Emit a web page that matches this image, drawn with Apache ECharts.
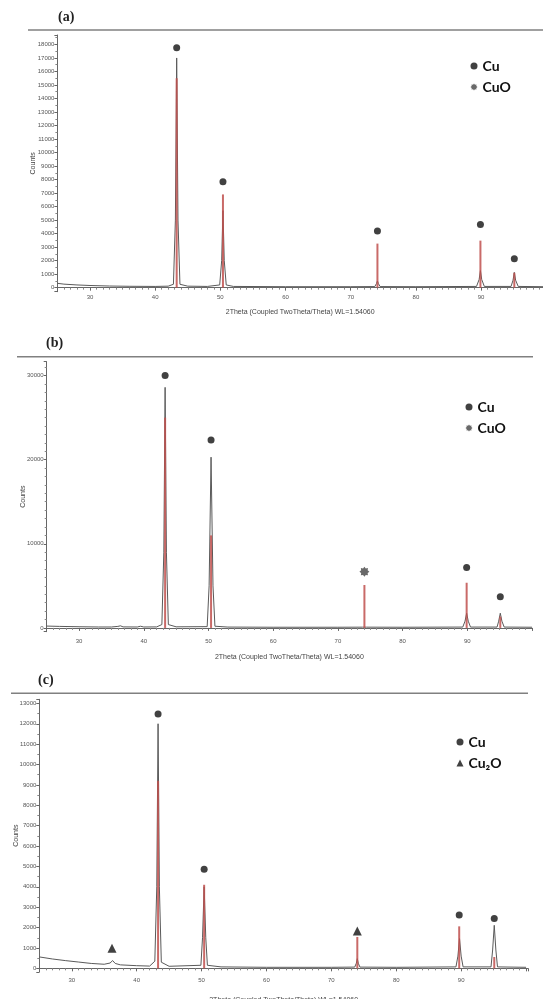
<!DOCTYPE html>
<html>
<head>
<meta charset="utf-8">
<script src="https://cdn.jsdelivr.net/npm/echarts@6/dist/echarts.min.js"></script>
<style>
  html, body { margin: 0; padding: 0; background: #fff; }
  #chart { width: 543px; height: 999px; }
</style>
</head>
<body>
<div id="chart"></div>
<script>
// measured scans [2theta, counts]
const scanA = [[25,320],[26,260],[28,200],[30,160],[33,120],[36,100],[40,90],[42,110],[42.8,250],[43.1,5000],[43.3,17000],[43.5,5000],[43.8,250],[45,110],[48,90],[49.9,200],[50.2,2000],[50.4,5700],[50.6,2000],[50.9,200],[52,90],[60,70],[70,70],[73.7,80],[73.95,300],[74.1,500],[74.25,300],[74.5,80],[80,70],[89.3,90],[89.7,600],[89.9,1260],[90.1,600],[90.5,90],[94.6,90],[94.9,550],[95.1,1130],[95.3,550],[95.7,90],[99.5,70]];
const scanB = [[25,220],[27,180],[30,140],[33,110],[35,110],[36,180],[36.4,250],[36.8,120],[39,110],[39.5,200],[40,110],[42,120],[42.8,400],[43.1,9000],[43.3,28600],[43.5,9000],[43.8,400],[45,130],[49.8,150],[50.1,5000],[50.4,20300],[50.7,5000],[51,200],[53,100],[60,80],[70,80],[73.8,90],[74.1,300],[74.4,90],[80,80],[89.3,100],[89.65,800],[89.9,1750],[90.15,800],[90.5,100],[94.6,100],[94.85,800],[95.1,1750],[95.35,800],[95.7,100],[100,80]];
const scanC = [[25,560],[27,460],[29,380],[31,310],[33,240],[35,200],[35.9,260],[36.3,380],[36.7,240],[37.5,170],[40,130],[42,110],[42.8,350],[43.1,4000],[43.3,12000],[43.5,4000],[43.8,300],[45,100],[49.9,150],[50.15,1500],[50.4,4000],[50.65,1500],[50.9,150],[53,70],[60,50],[70,50],[73.6,60],[73.85,250],[74.0,475],[74.15,250],[74.4,60],[80,50],[89.2,70],[89.5,600],[89.75,1460],[90.0,600],[90.3,70],[94.6,70],[94.85,900],[95.1,2110],[95.35,900],[95.6,70],[100,50]];

// reference stick patterns
const refA = [[43.3,15500],[50.4,6900],[74.1,3260],[89.9,3480],[95.1,1100]];
const refB = [[43.3,25000],[50.4,11000],[74.1,5100],[89.9,5370],[95.1,1350]];
const refC = [[43.3,9200],[50.4,4100],[74.0,1540],[89.7,2060],[95.1,555]];

// phase markers above peaks
const cuA = [[43.3,17750],[50.4,7830],[74.1,4190],[89.9,4680],[95.1,2140]];
const cuoA = [];
const cuB = [[43.3,30000],[50.4,22350],[89.9,7170],[95.1,3720]];
const cuoB = [[74.1,6690]];
const cuC = [[43.3,12480],[50.4,4860],[89.7,2620],[95.1,2450]];
const cu2oC = [[36.2,980],[74.0,1830]];

const panelTitles = ['(a)', '(b)', '(c)'];
const xName = '2Theta (Coupled TwoTheta/Theta) WL=1.54060';
const yName = 'Counts';

// spiky dot used for CuO
const star = 'path://M10 0 L12.7 3.5 L17.07 2.93 L16.5 7.3 L20 10 L16.5 12.7 L17.07 17.07 L12.7 16.5 L10 20 L7.3 16.5 L2.93 17.07 L3.5 12.7 L0 10 L3.5 7.3 L2.93 2.93 L7.3 3.5 Z';

const grids = [
  {left: 57.4, top: 35, width: 485.6, height: 256.7, outerBoundsMode: 'none'},
  {left: 46.7, top: 361.7, width: 485.3, height: 270, outerBoundsMode: 'none'},
  {left: 39.3, top: 699.3, width: 488.7, height: 272.7, outerBoundsMode: 'none'}
];
const xRanges = [[25, 99.5], [25, 100], [25, 100.3]];
const yRanges = [[-300, 18700, 19, 2], [-450, 31650, 3, 10], [-180, 13200, 14, 2]];
const labelGaps = [3, 7, 5];
const nameGaps = [17, 22, 25];
const yNameGaps = [21, 20, 20];

const tickFont = {fontSize: 6, color: '#555', fontFamily: 'Liberation Sans'};
const axisLine = {lineStyle: {color: '#666', width: 1}};

const xAxes = grids.map((g, i) => ({
  type: 'value', gridIndex: i, min: xRanges[i][0], max: xRanges[i][1], splitNumber: 7,
  name: xName, nameLocation: 'middle', nameGap: nameGaps[i],
  nameTextStyle: {fontSize: 7, color: '#444', fontFamily: 'Liberation Sans'},
  axisLine: axisLine, axisTick: {length: 3, lineStyle: {color: '#666'}},
  minorTick: {show: true, splitNumber: 10, length: 2, lineStyle: {color: '#888'}},
  axisLabel: Object.assign({margin: labelGaps[i], showMinLabel: false, showMaxLabel: false,
    formatter: v => (v > 95 ? '' : String(v))}, tickFont),
  splitLine: {show: false}
}));

const yAxes = grids.map((g, i) => ({
  type: 'value', gridIndex: i, min: yRanges[i][0], max: yRanges[i][1], splitNumber: yRanges[i][2],
  name: yName, nameLocation: 'middle', nameGap: yNameGaps[i], nameMoveOverlap: false,
  nameTextStyle: {fontSize: 7, color: '#444', fontFamily: 'Liberation Sans'},
  axisLine: Object.assign({show: true}, axisLine), axisTick: {length: 3, lineStyle: {color: '#666'}},
  minorTick: {show: true, splitNumber: yRanges[i][3], length: 2, lineStyle: {color: '#888'}},
  axisLabel: Object.assign({margin: 3, showMinLabel: false, showMaxLabel: false, formatter: v => String(v)}, tickFont),
  splitLine: {show: false}
}));

function scanSeries(data, i) {
  return {type: 'line', name: 'scan' + i, xAxisIndex: i, yAxisIndex: i, data: data,
    showSymbol: false, symbol: 'none', lineStyle: {color: '#5a5a5a', width: 1}, z: 2};
}
function refSeries(data, i) {
  return {type: 'bar', name: 'ref' + i, xAxisIndex: i, yAxisIndex: i, data: data,
    barWidth: 2, itemStyle: {color: '#c0504d', opacity: 0.85}, z: 3};
}
function markSeries(name, data, i, symbol, size, color) {
  return {type: 'scatter', name: name, xAxisIndex: i, yAxisIndex: i, data: data,
    symbol: symbol, symbolSize: size, itemStyle: {color: color}, z: 4};
}

const legendText = {fontFamily: 'Lato', fontWeight: 'bold', fontSize: 14, color: '#111', lineHeight: 14};
function legendAt(left, top, names) {
  return {left: left, top: top, orient: 'vertical', itemWidth: 7, itemHeight: 7, itemGap: 7,
    padding: 0, selectedMode: false, textStyle: legendText, data: names};
}

const option = {
  animation: false,
  backgroundColor: '#fff',
  title: [
    {text: panelTitles[0], left: 58, top: 10, padding: 0},
    {text: panelTitles[1], left: 46, top: 336, padding: 0},
    {text: panelTitles[2], left: 38, top: 673, padding: 0}
  ].map(t => Object.assign(t, {textStyle: {fontFamily: 'Liberation Serif', fontWeight: 'bold', fontSize: 14, color: '#222'}})),
  graphic: [
    {type: 'line', shape: {x1: 28, y1: 30, x2: 543, y2: 30}, style: {stroke: '#808080', lineWidth: 1.5}},
    {type: 'line', shape: {x1: 17, y1: 356.7, x2: 533, y2: 356.7}, style: {stroke: '#808080', lineWidth: 1.5}},
    {type: 'line', shape: {x1: 11, y1: 693.3, x2: 528, y2: 693.3}, style: {stroke: '#808080', lineWidth: 1.5}}
  ],
  legend: [
    legendAt(470.5, 59, [{name: 'Cu', icon: 'circle'}, {name: 'CuO', icon: star}]),
    legendAt(465.5, 400, [{name: 'Cu', icon: 'circle'}, {name: 'CuO', icon: star}]),
    legendAt(456.5, 735, [{name: 'Cu', icon: 'circle'}, {name: 'Cu₂O', icon: 'triangle'}])
  ],
  grid: grids,
  xAxis: xAxes,
  yAxis: yAxes,
  series: [
    scanSeries(scanA, 0), refSeries(refA, 0),
    markSeries('Cu', cuA, 0, 'circle', 7, '#111'),
    markSeries('CuO', cuoA, 0, star, 10, '#444'),
    scanSeries(scanB, 1), refSeries(refB, 1),
    markSeries('Cu', cuB, 1, 'circle', 7, '#111'),
    markSeries('CuO', cuoB, 1, star, 10, '#444'),
    scanSeries(scanC, 2), refSeries(refC, 2),
    markSeries('Cu', cuC, 2, 'circle', 7, '#111'),
    markSeries('Cu₂O', cu2oC, 2, 'triangle', 9, '#111')
  ]
};

const chart = echarts.init(document.getElementById('chart'));
chart.setOption(option);
</script>
</body>
</html>
